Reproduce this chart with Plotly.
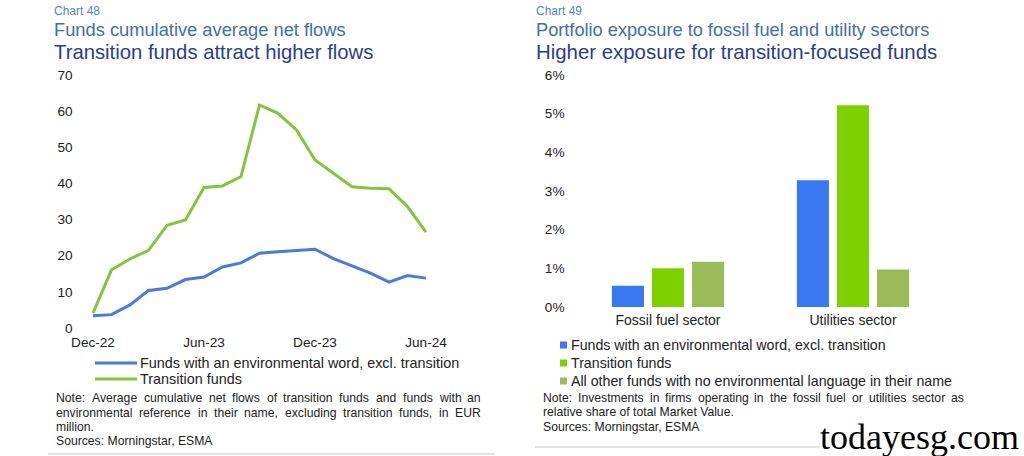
import plotly.graph_objects as go

# ---------------- data ----------------
months = ["Dec-22", "Jan-23", "Feb-23", "Mar-23", "Apr-23", "May-23", "Jun-23",
          "Jul-23", "Aug-23", "Sep-23", "Oct-23", "Nov-23", "Dec-23", "Jan-24",
          "Feb-24", "Mar-24", "Apr-24", "May-24", "Jun-24"]
env_funds = [3.4, 3.7, 6.4, 10.4, 11.0, 13.4, 14.1, 16.9, 18.0, 20.7, 21.1, 21.4,
             21.8, 19.2, 17.3, 15.2, 12.7, 14.5, 13.8]
transition_funds = [4.1, 16.1, 19.1, 21.5, 28.4, 29.9, 38.9, 39.3, 41.9, 61.7, 59.4,
                    54.8, 46.5, 42.8, 39.1, 38.7, 38.5, 33.6, 26.5]
line_tick_labels = ["Dec-22", "Jun-23", "Dec-23", "Jun-24"]
line_names = ["Funds with an environmental word, excl. transition", "Transition funds"]

sectors = ["Fossil fuel sector", "Utilities sector"]
bar_env = [0.55, 3.28]
bar_transition = [1.0, 5.22]
bar_other = [1.17, 0.97]
bar_names = ["Funds with an environmental word, excl. transition", "Transition funds",
             "All other funds with no environmental language in their name"]

# ---------------- style ----------------
W, H = 1024, 456
FONT = "Liberation Sans, Arial, sans-serif"
TXT = "#222222"
LINE_BLUE, LINE_GREEN = "#4a7bdc", "#84c63a"
BAR_COLORS = ["#3a78f2", "#7fd000", "#9bbb59"]


def px(x):
    return x / W


def py(y):
    return 1 - y / H


ARIAL = {' ': 278, '!': 278, ',': 278, '-': 333, '.': 278, ':': 278, ';': 278, '(': 333, ')': 333,
         '%': 889, '/': 278,
         'A': 667, 'B': 667, 'C': 722, 'D': 722, 'E': 667, 'F': 611, 'G': 778, 'H': 722, 'I': 278,
         'J': 500, 'K': 667, 'L': 556, 'M': 833, 'N': 722, 'O': 778, 'P': 667, 'Q': 778, 'R': 722,
         'S': 667, 'T': 611, 'U': 722, 'V': 667, 'W': 944, 'X': 667, 'Y': 667, 'Z': 611,
         'a': 556, 'b': 556, 'c': 500, 'd': 556, 'e': 556, 'f': 278, 'g': 556, 'h': 556, 'i': 222,
         'j': 222, 'k': 500, 'l': 222, 'm': 833, 'n': 556, 'o': 556, 'p': 556, 'q': 556, 'r': 333,
         's': 500, 't': 278, 'u': 556, 'v': 500, 'w': 722, 'x': 500, 'y': 500, 'z': 500}


def tw(s, size):
    return sum(ARIAL.get(c, 556) for c in s) / 1000 * size


annotations = []
shapes = []


def text(s, x, y, size, color=TXT, family=FONT, xanchor="left", bg=None):
    a = dict(text=s, x=px(x), y=py(y), xref="paper", yref="paper", showarrow=False,
             xanchor=xanchor, yanchor="middle", font=dict(size=size, color=color, family=family),
             borderpad=0)
    if bg:
        a["bgcolor"] = bg
    annotations.append(a)


def justified(s, x0, x1, y, size):
    words = s.split(" ")
    widths = [tw(w, size) for w in words]
    gap = (x1 - x0 - sum(widths)) / (len(words) - 1)
    x = x0
    for w, wd in zip(words, widths):
        text(w, x, y, size)
        x += wd + gap


fig = go.Figure()

# ---------------- left: line chart ----------------
x_idx = list(range(len(months)))
fig.add_trace(go.Scatter(x=x_idx, y=env_funds, mode="lines", name=line_names[0],
                         line=dict(color=LINE_BLUE, width=3), xaxis="x", yaxis="y",
                         showlegend=False))
fig.add_trace(go.Scatter(x=x_idx, y=transition_funds, mode="lines", name=line_names[1],
                         line=dict(color=LINE_GREEN, width=3), xaxis="x", yaxis="y",
                         showlegend=False))

# ---------------- right: bar chart ----------------
for name, vals, col in zip(bar_names, [bar_env, bar_transition, bar_other], BAR_COLORS):
    fig.add_trace(go.Bar(x=sectors, y=vals, name=name, marker=dict(color=col, line=dict(width=0)),
                         xaxis="x2", yaxis="y2", showlegend=False))

tick_vals = [months.index(m) for m in line_tick_labels]

fig.update_layout(
    width=W, height=H, margin=dict(l=0, r=0, t=0, b=0, autoexpand=False),
    paper_bgcolor="white", plot_bgcolor="white",
    font=dict(family=FONT, color=TXT, size=14),
    barmode="group", bargap=0.35, bargroupgap=0.2,
    xaxis=dict(domain=[px(85.6), px(433.4)], range=[-0.4, 18.4], tickvals=tick_vals,
               ticktext=line_tick_labels, showgrid=False, zeroline=False, showline=False,
               ticks="", tickfont=dict(size=13.6, color=TXT), anchor="y", ticklabelstandoff=4),
    yaxis=dict(domain=[py(328), py(75)], range=[0, 70], dtick=10, showgrid=False,
               zeroline=False, showline=False, ticks="", tickfont=dict(size=13.6, color=TXT),
               anchor="x", ticklabelstandoff=12),
    xaxis2=dict(domain=[px(575.5), px(945.5)], range=[-0.5, 1.5], showgrid=False,
                zeroline=False, showline=False, ticks="", tickfont=dict(size=14, color=TXT),
                anchor="y2", ticklabelstandoff=3),
    yaxis2=dict(domain=[py(307), py(75)], range=[0, 6], dtick=1, ticksuffix="%",
                showgrid=False, zeroline=False, showline=False, ticks="",
                tickfont=dict(size=13.6, color=TXT), anchor="x2", ticklabelstandoff=10),
)

# ---------------- titles ----------------
C1, C2, C3 = "#5585c8", "#3f6eb0", "#2a3d8d"
text("Chart 48", 53, 11, 12, C1)
text("Funds cumulative average net flows", 53, 30, 18.3, C2)
text("Transition funds attract higher flows", 53, 52, 20.3, C3)
text("Chart 49", 535, 11, 12, C1)
text("Portfolio exposure to fossil fuel and utility sectors", 535, 30, 18.2, C2)
text("Higher exposure for transition-focused funds", 535, 52, 20.4, C3)

# ---------------- legends ----------------
for i, (name, col) in enumerate(zip(line_names, [LINE_BLUE, LINE_GREEN])):
    y = 363 + 16 * i
    shapes.append(dict(type="line", xref="paper", yref="paper", x0=px(95), x1=px(137),
                       y0=py(y), y1=py(y), line=dict(color=col, width=3)))
    text(name, 139, y, 14.4)

for i, (name, col) in enumerate(zip(bar_names, BAR_COLORS)):
    y = 345 + 18 * i
    shapes.append(dict(type="rect", xref="paper", yref="paper", x0=px(560), x1=px(567),
                       y0=py(y + 3.5), y1=py(y - 3.5), line=dict(width=0), fillcolor=col))
    text(name, 570, y, 14.2)

# ---------------- notes ----------------
NS = 12.2
justified("Note: Average cumulative net flows of transition funds and funds with an", 55, 480, 398, NS)
justified("environmental reference in their name, excluding transition funds, in EUR", 55, 480, 413, NS)
text("million.", 55, 427, NS)
text("Sources: Morningstar, ESMA", 55, 441, NS)

justified("Note: Investments in firms operating in the fossil fuel or utilities sector as", 542, 963, 398, NS)
text("relative share of total Market Value.", 542, 412, NS)
text("Sources: Morningstar, ESMA", 542, 427, NS)

# separators
shapes.append(dict(type="line", xref="paper", yref="paper", x0=px(48), x1=px(495),
                   y0=py(454), y1=py(454), line=dict(color="#c8c8c8", width=1)))
shapes.append(dict(type="line", xref="paper", yref="paper", x0=px(535), x1=px(1015),
                   y0=py(447), y1=py(447), line=dict(color="#c8c8c8", width=1)))

# watermark
text("todayesg.com", 1020, 437, 36, "#000000", family="Liberation Serif, Times New Roman, serif",
     xanchor="right", bg="white")

fig.update_layout(annotations=annotations, shapes=shapes)
# remove the default 8px page margin so the figure fills the window exactly
fig.write_html("out.html", config={"displayModeBar": False},
               post_script="document.body.style.margin='0';document.body.style.overflow='hidden';")
